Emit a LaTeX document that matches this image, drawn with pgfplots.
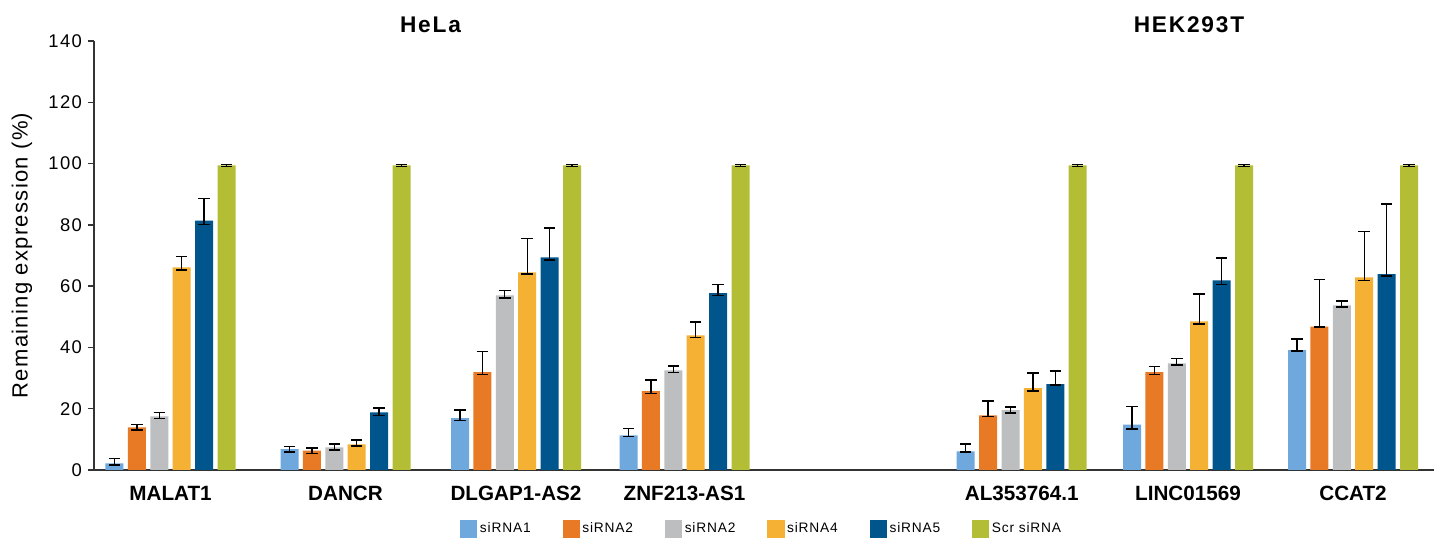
\documentclass[border=0pt]{standalone}
\usepackage{fontspec}
\setmainfont{Liberation Sans}
\newfontfamily\tickfont[LetterSpace=8]{Liberation Sans}
\newfontfamily\titlefont[LetterSpace=8]{Liberation Sans}
\newfontfamily\labelfont[LetterSpace=6]{Liberation Sans}
\newfontfamily\legfont[LetterSpace=6]{Liberation Sans}
\usepackage{pgfplots}
\usepackage{pgfplotstable}
\pgfplotsset{compat=1.18}

\definecolor{cOne}{HTML}{6FA8DC}
\definecolor{cTwo}{HTML}{E97A25}
\definecolor{cThree}{HTML}{BDBEC0}
\definecolor{cFour}{HTML}{F5B134}
\definecolor{cFive}{HTML}{00558C}
\definecolor{cScr}{HTML}{B3BE35}
\definecolor{axisgray}{HTML}{333333}

% x = group centre, y = remaining expression (%), ep/em = upper/lower error
\pgfplotstableread{
x      y     ep   em
76.5   2.2   1.5  0.6
251.5  6.8   0.8  0.9
422    16.9  2.7  0.7
590.5  11.3  2.2  0.4
927.7  6.1   2.4  0.3
1094   14.8  6.0  1.4
1259   39.1  3.6  0.3
}\sOne
\pgfplotstableread{
x      y     ep   em
76.5   13.9  0.9  0.9
251.5  6.3   0.9  1.0
422    31.9  6.8  0.8
590.5  25.7  3.7  0.8
927.7  17.8  4.7  0.3
1094   31.9  1.9  0.8
1259   46.8  15.3 0.2
}\sTwo
\pgfplotstableread{
x      y     ep   em
76.5   17.5  1.3  0.7
251.5  7.4   1.1  0.9
422    57.0  1.6  0.8
590.5  32.5  1.4  0.6
927.7  19.5  1.1  0.9
1094   34.8  1.6  0.5
1259   53.7  1.4  0.5
}\sThree
\pgfplotstableread{
x      y     ep   em
76.5   66.1  3.6  0.8
251.5  8.4   1.4  0.6
422    64.5  11.1 0.6
590.5  43.9  4.4  0.7
927.7  26.7  4.9  0.9
1094   48.5  8.9  0.9
1259   62.9  15.0 1.1
}\sFour
\pgfplotstableread{
x      y     ep   em
76.5   81.4  7.2  1.2
251.5  18.8  1.4  1.0
422    69.4  9.5  0.8
590.5  57.7  2.8  0.7
927.7  28.0  4.3  0.3
1094   61.9  7.3  1.4
1259   63.9  22.9 0.6
}\sFive
\pgfplotstableread{
x      y     ep   em
76.5   99.4  0.3  0.3
251.5  99.4  0.3  0.3
422    99.4  0.3  0.3
590.5  99.4  0.3  0.3
927.7  99.4  0.3  0.3
1094   99.4  0.3  0.3
1259   99.4  0.3  0.3
}\sScr

\pgfplotsset{
  errs/.style={
    error bars/.cd, y dir=both, y explicit,
    error bar style={black, line width=1pt},
    error mark options={black, line width=1.1pt, mark size=4.3pt, rotate=90}
  }
}

\begin{document}
\begin{tikzpicture}
\begin{axis}[
  at={(0,0)}, anchor=south west,
  scale only axis, width=1005pt, height=321.75pt,
  xmin=0, xmax=1340, ymin=0, ymax=140,
  axis x line=bottom, axis y line=left,
  axis line style={-, draw=axisgray, line width=1.1pt},
  ybar, bar width=18,
  tick align=outside,
  major tick length=4.5pt,
  tick style={draw=axisgray, line width=1pt},
  ytick={0,20,40,60,80,100,120,140},
  yticklabels={0,20,40,60,80,100,120,140},
  yticklabel style={font=\tickfont\fontsize{13.8}{13.8}\selectfont, xshift=-1pt},
  xtick={76.5,251.5,422,590.5,927.7,1094,1259},
  xticklabels={MALAT1,DANCR,DLGAP1-AS2,ZNF213-AS1,AL353764.1,LINC01569,CCAT2},
  xtick style={draw=none},
  xticklabel style={font=\bfseries\fontsize{15.5}{15.5}\selectfont, yshift=-4pt},
  extra x ticks={0,167.5,336,506.5},
  extra x tick labels={},
  extra x tick style={major tick length=6pt, tick style={draw=axisgray, line width=1pt}},
  ylabel={Remaining expression (\%)},
  every axis y label/.style={at={(axis description cs:-0.0537,0.5)}, rotate=90, anchor=center,
    font=\labelfont\fontsize{16.5}{16.5}\selectfont},
  legend columns=6,
  legend style={at={(axis description cs:0.4985,-0.1375)}, anchor=center, draw=none,
    font=\legfont\fontsize{10.3}{10.3}\selectfont,
    /tikz/every even column/.append style={column sep=22pt}},
  legend image code/.code={\fill[#1] (0pt,-6.4pt) rectangle (12.8pt,6.4pt);},
  clip=false,
]
\addplot[fill=cOne, draw=none, bar shift=-56, errs] table[x=x, y=y, y error plus=ep, y error minus=em] {\sOne};
\addplot[fill=cTwo, draw=none, bar shift=-33.6, errs] table[x=x, y=y, y error plus=ep, y error minus=em] {\sTwo};
\addplot[fill=cThree, draw=none, bar shift=-11.2, errs] table[x=x, y=y, y error plus=ep, y error minus=em] {\sThree};
\addplot[fill=cFour, draw=none, bar shift=11.2, errs] table[x=x, y=y, y error plus=ep, y error minus=em] {\sFour};
\addplot[fill=cFive, draw=none, bar shift=33.6, errs] table[x=x, y=y, y error plus=ep, y error minus=em] {\sFive};
\addplot[fill=cScr, draw=none, bar shift=56, errs] table[x=x, y=y, y error plus=ep, y error minus=em] {\sScr};
\legend{siRNA1, siRNA2, siRNA2, siRNA4, siRNA5, Scr siRNA}
\node[font=\titlefont\bfseries\fontsize{17}{17}\selectfont, anchor=base] at (axis cs:336.5,140) [yshift=6.4pt] {HeLa};
\node[font=\titlefont\bfseries\fontsize{17}{17}\selectfont, anchor=base] at (axis cs:1095,140) [yshift=6.4pt] {HEK293T};
\end{axis}
\pgfresetboundingbox
\useasboundingbox (-70.5pt,-51pt) rectangle (1005pt,352.5pt);
\end{tikzpicture}
\end{document}
